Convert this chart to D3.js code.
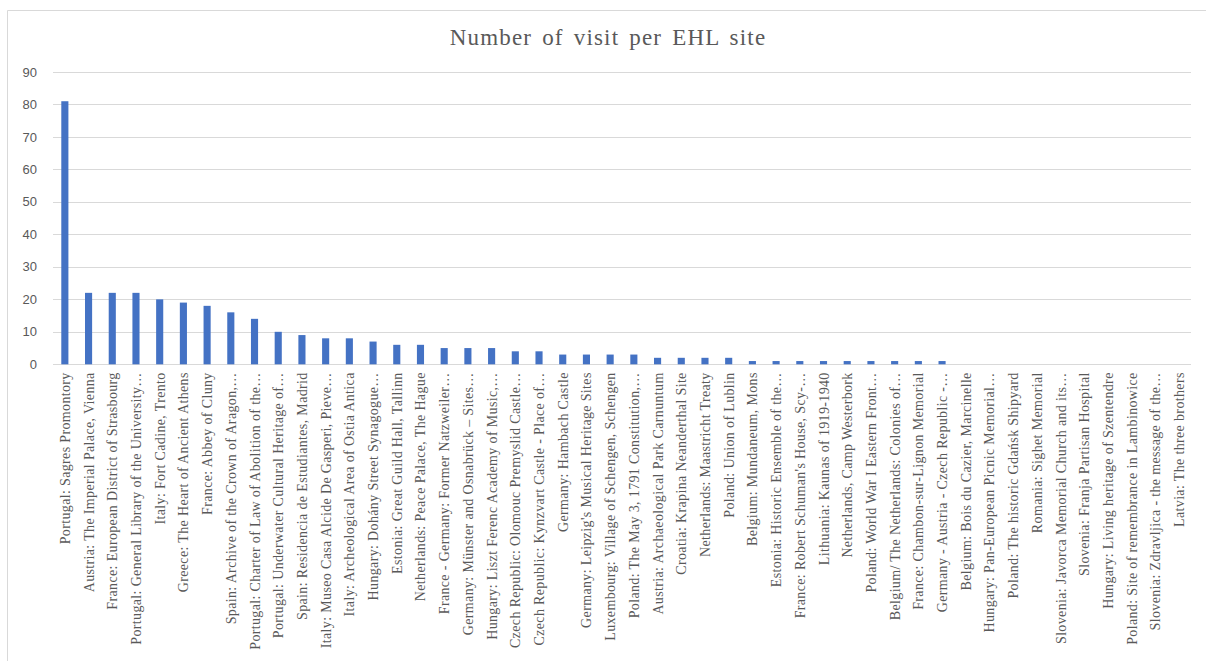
<!DOCTYPE html>
<html>
<head>
<meta charset="utf-8">
<script src="https://cdn.jsdelivr.net/npm/d3@7"></script>
<style>
  html, body { margin: 0; padding: 0; background: #fff; }
  svg { display: block; }
</style>
</head>
<body>
<svg id="chart" width="1206" height="661"></svg>
<script>
const title = "Number of visit per EHL site";

const categories = [
  "Portugal: Sagres Promontory",
  "Austria: The Imperial Palace, Vienna",
  "France: European District of Strasbourg",
  "Portugal: General Library of the University…",
  "Italy: Fort Cadine, Trento",
  "Greece: The Heart of Ancient Athens",
  "France: Abbey of Cluny",
  "Spain: Archive of the Crown of Aragon,…",
  "Portugal: Charter of Law of Abolition of the…",
  "Portugal: Underwater Cultural Heritage of…",
  "Spain: Residencia de Estudiantes, Madrid",
  "Italy: Museo Casa Alcide De Gasperi, Pieve…",
  "Italy: Archeological Area of Ostia Antica",
  "Hungary: Dohány Street Synagogue…",
  "Estonia: Great Guild Hall, Tallinn",
  "Netherlands: Peace Palace, The Hague",
  "France - Germany: Former Natzweiler…",
  "Germany: Münster and Osnabrück – Sites…",
  "Hungary: Liszt Ferenc Academy of Music,…",
  "Czech Republic: Olomouc Premyslid Castle…",
  "Czech Republic: Kynzvart Castle - Place of…",
  "Germany: Hambach Castle",
  "Germany: Leipzig's Musical Heritage Sites",
  "Luxembourg: Village of Schengen, Schengen",
  "Poland: The May 3, 1791 Constitution,…",
  "Austria: Archaeological Park Carnuntum",
  "Croatia: Krapina Neanderthal Site",
  "Netherlands: Maastricht Treaty",
  "Poland: Union of Lublin",
  "Belgium: Mundaneum, Mons",
  "Estonia: Historic Ensemble of the…",
  "France: Robert Schuman's House, Scy-…",
  "Lithuania: Kaunas of 1919-1940",
  "Netherlands, Camp Westerbork",
  "Poland: World War I Eastern Front…",
  "Belgium/ The Netherlands: Colonies of…",
  "France: Chambon-sur-Lignon Memorial",
  "Germany - Austria - Czech Republic -…",
  "Belgium: Bois du Cazier, Marcinelle",
  "Hungary: Pan-European Picnic Memorial…",
  "Poland: The historic Gdańsk Shipyard",
  "Romania: Sighet Memorial",
  "Slovenia: Javorca Memorial Church and its…",
  "Slovenia: Franja Partisan Hospital",
  "Hungary: Living heritage of Szentendre",
  "Poland: Site of remembrance in Lambinowice",
  "Slovenia: Zdravljica - the message of the…",
  "Latvia: The three brothers"
];

const visits = [
  81, 22, 22, 22, 20, 19, 18, 16, 14, 10,
  9, 8, 8, 7, 6, 6, 5, 5, 5, 4,
  4, 3, 3, 3, 3, 2, 2, 2, 2, 1,
  1, 1, 1, 1, 1, 1, 1, 1, 0, 0,
  0, 0, 0, 0, 0, 0, 0, 0
];

const yTicks = [0, 10, 20, 30, 40, 50, 60, 70, 80, 90];

const svg = d3.select("#chart");

// chart border (left/top only visible in reference)
svg.append("path")
  .attr("d", "M7.5,661 V10.5 H1206")
  .attr("fill", "none")
  .attr("stroke", "#d9d9d9")
  .attr("stroke-width", 1);

const plot = { left: 53, right: 1191, top: 72, bottom: 364.3 };

const x = d3.scaleBand()
  .domain(categories)
  .range([plot.left, plot.right])
  .paddingInner(0.7)
  .paddingOuter(0.35);

const y = d3.scaleLinear()
  .domain([0, 90])
  .range([plot.bottom, plot.top]);

// gridlines
svg.append("g")
  .selectAll("line")
  .data(yTicks)
  .join("line")
  .attr("x1", plot.left)
  .attr("x2", plot.right)
  .attr("y1", d => Math.round(y(d)) + 0.5)
  .attr("y2", d => Math.round(y(d)) + 0.5)
  .attr("stroke", "#d9d9d9")
  .attr("stroke-width", 1);

// y-axis labels
svg.append("g")
  .selectAll("text")
  .data(yTicks)
  .join("text")
  .attr("x", 37)
  .attr("y", d => y(d))
  .attr("dy", "0.35em")
  .attr("text-anchor", "end")
  .attr("font-family", "'Liberation Sans', Arial, sans-serif")
  .attr("font-size", 13)
  .attr("fill", "#595959")
  .text(d => d);

// bars
svg.append("g")
  .selectAll("rect")
  .data(categories.map((c, i) => ({ c, v: visits[i] })))
  .join("rect")
  .attr("x", d => x(d.c))
  .attr("width", x.bandwidth())
  .attr("y", d => y(d.v))
  .attr("height", d => y(0) - y(d.v))
  .attr("fill", "#4472c4");

// x-axis labels rotated
svg.append("g")
  .selectAll("text")
  .data(categories)
  .join("text")
  .attr("transform", d => `translate(${x(d) + x.bandwidth() / 2 + 5},${plot.bottom + 8}) rotate(-90)`)
  .attr("text-anchor", "end")
  .attr("font-family", "'Liberation Serif', 'Times New Roman', serif")
  .attr("font-size", 14)
  .attr("letter-spacing", "0.35px")
  .attr("fill", "#595959")
  .text(d => d);

// title
svg.append("text")
  .attr("x", 608)
  .attr("y", 45)
  .attr("text-anchor", "middle")
  .attr("font-family", "'Liberation Serif', 'Times New Roman', serif")
  .attr("font-size", 23)
  .attr("letter-spacing", "1.2px")
  .attr("word-spacing", "3px")
  .attr("fill", "#595959")
  .text(title);
</script>
</body>
</html>
